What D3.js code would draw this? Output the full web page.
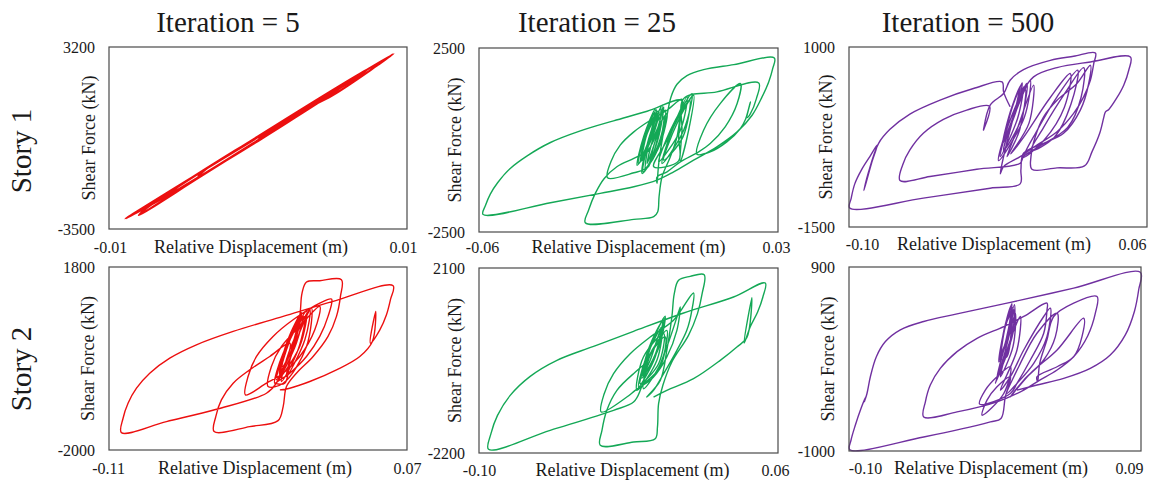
<!DOCTYPE html>
<html>
<head>
<meta charset="utf-8">
<title>Shear force vs relative displacement</title>
<script src="https://d3js.org/d3.v7.min.js"></script>
</head>
<body style="margin:0; background:#fff">
<svg width="1169" height="481"></svg>
<script>
// titles
var iterations = ["Iteration = 5", "Iteration = 25", "Iteration = 500"];
var stories = ["Story 1", "Story 2"];

// tick labels (axis ranges) per panel, row by row
var xTicks = [[-0.01, 0.01], [-0.06, 0.03], [-0.10, 0.06], [-0.11, 0.07], [-0.10, 0.06], [-0.10, 0.09]];
var yTicks = [[-3500, 3200], [-2500, 2500], [-1500, 1000], [-2000, 1800], [-2200, 2100], [-1000, 900]];

// [relative displacement (m), shear force (kN)]
var story1Iter5 = [[0,-150],[0.0040,1230],[0.0036,1020],[0,-260],[-0.0040,-1560],[-0.0036,-1340],[0,-100],
  [0.0060,1920],[0.0054,1650],[0,-250],[-0.0060,-2230],[-0.0054,-1960],[0,-90],[0.0075,2440],[0.0068,2150],
  [0.0030,830],[0,-240],[-0.0040,-1620],[-0.0080,-2990],[-0.0074,-2700],[-0.0040,-1460],[0,-110],[0.0050,1590],
  [0.0091,2950],[0.0080,2520],[0.0050,1420],[0.0028,800],[0.0026,690],[0,-230],[-0.0050,-1930],[-0.0089,-3120],
  [-0.0082,-2880],[-0.0050,-1790],[0,-120],[0.0030,900]];

var story1Iter25 = [[-0.0115,-600],[-0.0098,150],[-0.0062,780],[-0.0080,60],[-0.0120,-650],[-0.0102,120],
  [-0.0066,820],[-0.0084,40],[-0.0110,-560],[-0.0094,170],[-0.0058,760],[-0.0078,80],[-0.0124,-690],
  [-0.0104,100],[-0.0070,840],[-0.0088,20],[-0.0115,-600],
  [-0.0074,-5],[-0.0044,899],[-0.0062,-5],[-0.0099,-819],[-0.0082,131],[-0.0039,809],
  [-0.0059,-95],[-0.0106,-864],[-0.0086,104],[-0.0049,945],[-0.0066,86],[-0.0094,-638],[-0.0072,131],
  [-0.0034,719],[-0.0056,-141],[-0.0109,-909],[-0.0089,40],[-0.0054,854],[-0.0064,-5],[-0.0089,-728],
  [-0.0069,-5],[-0.0044,628],[-0.0059,-186],[-0.0099,-773],[-0.0134,-891],[-0.0213,-1027],[-0.0203,-593],
  [-0.0175,-141],[-0.0134,221],[-0.0084,538],[-0.0034,809],[0.0011,1107],[0.0008,719],[0.0001,86],
  [0.0001,-566],[-0.0074,-728],[-0.0034,-5],[0.0026,1171],[0.0006,266],[-0.0059,-593],[-0.0024,266],
  [0.0041,1261],[0.0016,266],[-0.0049,-638],[-0.0014,357],[0.0034,1080],[0.0014,86],[-0.0044,-547],
  [-0.0004,447],[0.0046,1216],[0.0031,266],[0.0006,-575],[0.0011,266],[0.0016,1125],[0.0116,1306],
  [0.0242,1550],[0.0235,1125],[0.0217,719],[0.0207,610],[0.0217,1035],[0.0202,556],[0.0187,312],
  [0.0146,-50],[0.0096,-321],[0.0056,-385],[0.0076,266],[0.0126,990],[0.0187,1532],[0.0177,990],
  [0.0141,357],[0.0096,-95],[0.0061,-321],[0.0006,-593],[-0.0034,-864],[-0.0064,-999],[-0.0064,-1180],
  [-0.0059,-638],[-0.0047,86],[-0.0034,673],[-0.0022,1171],[-0.0004,1514],[0.0026,1749],[0.0076,1912],
  [0.0167,2048],[0.0289,2228],[0.0284,1939],[0.0272,1578],[0.0252,1171],[0.0222,673],[0.0177,221],
  [0.0116,-186],[0.0046,-547],[-0.0014,-864],[-0.0064,-1090],[-0.0134,-1271],[-0.0235,-1452],
  [-0.0385,-1705],[-0.0588,-2021],[-0.0580,-1768],[-0.0566,-1470],[-0.0544,-1162],[-0.0506,-773],
  [-0.0455,-430],[-0.0385,-68],[-0.0295,248],[-0.0195,520],[-0.0094,782],[0.0009,1080],[0.0006,719],
  [-0.0004,86],[-0.0024,-457],[-0.0049,-999],[-0.0058,-1542],[-0.0062,-1949],[-0.0074,-2085],
  [-0.0134,-2157],[-0.0280,-2247],[-0.0270,-1904],[-0.0250,-1452],[-0.0223,-1045],[-0.0185,-727],
  [-0.0134,-502],[-0.0084,-276]];

var story1Iter500 = [[-0.0170,-300],[-0.0130,120],[-0.0080,460],[-0.0110,100],[-0.0165,-280],[-0.0125,150],
  [-0.0070,500],[-0.0100,130],[-0.0175,-340],[-0.0135,90],[-0.0085,430],[-0.0115,60],[-0.0160,-250],
  [-0.0135,-107],[-0.0063,446],[-0.0095,8],[-0.0188,-522],[-0.0149,-116],[-0.0045,493],
  [-0.0077,-15],[-0.0170,-439],[-0.0127,-52],[-0.0027,539],[-0.0059,22],[-0.0197,-578],[-0.0156,-163],
  [-0.0054,410],[-0.0084,-153],[-0.0152,-522],[-0.0102,-176],[-0.0009,470],[-0.0034,-61],[-0.0131,-485],
  [-0.0063,-255],[0.0077,285],[0.0188,631],[0.0156,160],[0.0048,-292],[-0.0063,-532],[0.0009,-163],
  [0.0117,308],[0.0228,677],[0.0192,207],[0.0102,-255],[-0.0023,-439],[0.0045,-116],[0.0156,345],
  [0.0260,714],[0.0246,299],[0.0174,-116],[0.0013,-393],[-0.0063,-522],[-0.0081,-615],[-0.0314,-698],
  [-0.0565,-799],[-0.0726,-855],[-0.0712,-638],[-0.0673,-430],[-0.0601,-199],[-0.0493,-6],[-0.0368,124],
  [-0.0246,179],[-0.0278,-153],[-0.0242,193],[-0.0170,354],[-0.0135,539],[-0.0063,686],[0.0081,815],
  [0.0206,871],[0.0323,917],[0.0314,769],[0.0296,539],[0.0260,308],[0.0206,77],[0.0117,-176],
  [0.0009,-361],[-0.0081,-522],[-0.0170,-661],[-0.0188,-762],[-0.0170,-522],[-0.0135,-153],[-0.0081,308],
  [-0.0009,585],[0.0117,714],[0.0296,792],[0.0511,862],[0.0502,677],[0.0475,470],[0.0436,285],
  [0.0395,133],[0.0377,100],[0.0368,22],[0.0346,-199],[0.0305,-453],[0.0264,-652],[0.0117,-679],
  [-0.0018,-698],[-0.0023,-522],[0,-246],[0.0045,31],[0.0117,262],[0.0224,493],[0.0296,746],
  [0.0287,493],[0.0242,124],[0.0152,-199],[0.0045,-338],[-0.0063,-476],[-0.0077,-707],[-0.0081,-901],
  [-0.0242,-961],[-0.0601,-1099],[-0.0996,-1237],[-0.0988,-1099],[-0.0969,-901],[-0.0933,-707],
  [-0.0888,-522],[-0.0848,-361],[-0.0879,-615],[-0.0920,-993],[-0.0897,-753],[-0.0841,-338],
  [-0.0780,-144],[-0.0673,68],[-0.0511,262],[-0.0332,423],[-0.0178,516],[-0.0170,377],[-0.0135,170]];

var story2Iter5 = [[-0.0065,-380],[-0.0022,260],[0.0050,760],[0.0008,130],[-0.0058,-320],[-0.0018,300],
  [0.0058,820],[0.0012,150],[-0.0070,-430],[-0.0026,230],[0.0044,700],[0.0004,90],[-0.0052,-270],
  [-0.0014,320],[0.0062,850],[0.0016,170],[-0.0062,-360],[-0.0020,250],[0.0052,780],[0.0006,110],
  [-0.0066,-400],
  [-0.0028,80],[0.0052,774],[0.0012,150],[-0.0089,-544],[-0.0038,80],[0.0072,843],
  [0.0032,219],[-0.0068,-474],[-0.0024,150],[0.0093,878],[0.0052,150],[-0.0099,-613],[-0.0048,11],
  [0.0083,774],[0.0042,80],[-0.0058,-578],[-0.0008,80],[0.0113,912],[0.0083,288],[-0.0028,-474],
  [0.0012,80],[0.0123,947],[0.0093,150],[-0.0048,-613],[-0.0139,-682],[-0.0119,-266],[-0.0058,150],
  [0.0052,566],[0.0173,982],[0.0143,496],[0.0052,-58],[-0.0048,-405],[-0.0149,-613],[-0.0276,-856],
  [-0.0260,-474],[-0.0209,-58],[-0.0109,358],[0.0012,704],[0.0173,1051],[0.0244,1134],[0.0223,774],
  [0.0173,358],[0.0093,-58],[-0.0008,-405],[-0.0089,-613],[-0.0038,-613],[0.0002,80],[0.0052,774],
  [0.0066,1259],[0.0093,1488],[0.0173,1516],[0.0304,1537],[0.0298,1190],[0.0274,774],[0.0223,358],
  [0.0133,-58],[0.0032,-405],[-0.0028,-682],[-0.0048,-1098],[-0.0079,-1390],[-0.0250,-1514],
  [-0.0465,-1618],[-0.0455,-1306],[-0.0421,-960],[-0.0350,-613],[-0.0250,-336],[-0.0129,-58],
  [-0.0008,219],[-0.0089,-613],[-0.0149,-821],[-0.0451,-1154],[-0.0753,-1410],[-0.1025,-1639],
  [-0.1015,-1341],[-0.0985,-1029],[-0.0934,-717],[-0.0854,-405],[-0.0733,-93],[-0.0572,184],
  [-0.0350,462],[-0.0048,774],[0.0254,1086],[0.0616,1412],[0.0600,1121],[0.0576,808],[0.0536,496],
  [0.0479,219],[0.0511,878],[0.0491,254],[0.0415,-58],[0.0274,-336],[0.0113,-578],[-0.0008,-717],
  [-0.0068,-752]];

var story2Iter25 = [[-0.0125,-420],[-0.0085,280],[-0.0015,880],[-0.0050,140],[-0.0118,-360],[-0.0080,320],
  [-0.0008,940],[-0.0045,180],[-0.0130,-460],[-0.0090,250],[-0.0020,850],[-0.0055,110],[-0.0112,-320],
  [-0.0075,350],[-0.0004,980],[-0.0042,200],[-0.0122,-400],
  [-0.0084,-46],[-0.0030,651],[-0.0057,31],[-0.0146,-666],[-0.0111,-46],[-0.0021,729],
  [-0.0048,-46],[-0.0155,-744],[-0.0120,31],[-0.0012,574],[-0.0039,-124],[-0.0137,-589],[-0.0093,31],
  [0.0005,651],[-0.0021,-46],[-0.0120,-705],[-0.0080,109],[-0.0004,496],[-0.0030,-201],[-0.0128,-627],
  [-0.0066,-434],[0.0005,264],[0.0068,1077],[0.0077,1193],[0.0059,651],[0.0005,31],[-0.0066,-434],
  [-0.0164,-744],[-0.0209,-899],[-0.0346,-1247],[-0.0330,-821],[-0.0280,-356],[-0.0191,109],
  [-0.0084,496],[0.0041,884],[0.0148,1519],[0.0139,1116],[0.0112,651],[0.0059,186],[-0.0012,-356],
  [-0.0066,-744],[-0.0102,-899],[-0.0030,-511],[0.0005,186],[0.0032,961],[0.0045,1503],[0.0068,1813],
  [0.0130,1906],[0.0205,1945],[0.0194,1503],[0.0169,1039],[0.0121,535],[0.0032,-85],[-0.0016,-627],
  [-0.0039,-1053],[-0.0045,-1596],[-0.0057,-1867],[-0.0173,-1945],[-0.0351,-2022],[-0.0342,-1673],
  [-0.0316,-1208],[-0.0262,-744],[-0.0173,-356],[-0.0102,-124],[-0.0137,-744],[-0.0173,-1015],
  [-0.0280,-1208],[-0.0619,-1673],[-0.0949,-2115],[-0.0936,-1751],[-0.0901,-1325],[-0.0833,-860],
  [-0.0726,-418],[-0.0583,-46],[-0.0387,279],[-0.0173,628],[0.0095,1054],[0.0362,1426],[0.0532,1751],
  [0.0519,1426],[0.0491,1077],[0.0451,729],[0.0419,357],[0.0460,1410],[0.0433,481],[0.0380,264],
  [0.0291,-46],[0.0148,-472],[0.0005,-744],[-0.0066,-899]];

var story2Iter500 = [[-0.0020,-60],[0.0010,260],[0.0060,520],[0.0030,200],[-0.0015,-40],[0.0015,290],
  [0.0065,480],[0.0035,180],[-0.0025,-80],[0.0008,240],[0.0055,500],[0.0028,160],[-0.0010,-20],
  [0.0020,300],[0.0068,460],[0.0032,170],[-0.0020,-60],
  [0.0028,-26],[0.0061,389],[0.0050,112],[-0.0037,-233],[0.0007,43],[0.0072,458],
  [0.0061,181],[-0.0026,-164],[0.0017,112],[0.0076,510],[0.0067,216],[-0.0048,-302],[0.0007,-26],
  [0.0082,423],[0.0067,78],[-0.0015,-233],[0.0028,43],[0.0115,389],[0.0093,43],[-0.0015,-371],
  [0.0050,-233],[0.0137,43],[0.0267,389],[0.0310,475],[0.0288,181],[0.0202,-95],[0.0093,-302],
  [0.0028,-406],[0.0115,-95],[0.0223,216],[0.0354,423],[0.0343,181],[0.0267,-60],[0.0137,-268],
  [0.0050,-440],[0.0180,-199],[0.0354,43],[0.0527,371],[0.0516,181],[0.0462,-26],[0.0354,-130],
  [0.0223,-233],[0.0228,-285],[0.0241,-95],[0.0288,147],[0.0332,389],[0.0462,527],[0.0614,596],
  [0.0603,423],[0.0553,188],[0.0466,-19],[0.0354,-164],[0.0234,-275],[0.0137,-371],[-0.0037,-492],
  [-0.0297,-596],[-0.0514,-648],[-0.0503,-492],[-0.0471,-319],[-0.0406,-147],[-0.0297,26],
  [-0.0167,164],[0.0007,285],[0.0137,389],[0.0288,527],[0.0288,451],[0.0267,216],[0.0180,-60],
  [0.0093,-302],[0.0050,-406],[-0.0150,-516],[-0.0113,-371],[-0.0037,-233],[0.0050,-130],[0.0007,-406],
  [-0.0134,-630],[-0.0102,-475],[-0.0037,-337],[0.0050,-233],[0.0017,-440],[-0.0011,-665],
  [-0.0080,-700],[-0.0514,-855],[-0.0995,-986],[-0.0987,-889],[-0.0959,-734],[-0.0922,-561],
  [-0.0891,-440],[-0.0900,-492],[-0.0883,-406],[-0.0861,-233],[-0.0822,-26],[-0.0763,130],
  [-0.0666,251],[-0.0514,337],[-0.0297,416],[0.0028,527],[0.0462,682],[0.0896,845],[0.0885,665],
  [0.0857,441],[0.0798,199],[0.0700,-9],[0.0570,-147],[0.0397,-250],[0.0223,-319],[0.0093,-371]];

var panelData = [story1Iter5, story1Iter25, story1Iter500, story2Iter5, story2Iter25, story2Iter500];
var colors = ["#ec0f0f", "#14a856", "#7030a0", "#ec0f0f", "#14a856", "#7030a0"];

// plot boxes [left, top, right, bottom] in px
var boxes = [[109, 47, 407, 229], [479, 48, 778, 232], [849, 47, 1147, 227],
             [109, 267, 407, 450], [479, 268, 778, 453], [849, 267, 1141, 451]];
// nudges of the x tick labels (left, right), x title shift, label baseline, y title gap
var xLabelShift = [[1, -4], [3, -2], [13, -15], [-1, 0], [0, -3], [16, -12]];
var xTitleShift = [-7, 0, -4, -3, 4, -4];
var xBaseline = [253, 253, 250, 474, 476, 474];
var yTitleGap = [14.5, 18.4, 16.7, 15, 18.4, 15];

var serif = "'Liberation Serif'";
var ink = "#1a1a1a";

var svg = d3.select("svg");
var loc = d3.formatLocale({decimal: ".", thousands: ",", grouping: [3], currency: ["", ""], minus: "-"});
var fmtX = loc.format(".2f"), fmtY = loc.format("d");

// column titles
var colCenters = [228, 597, 968];
svg.selectAll(".coltitle")
  .data(iterations)
  .enter().append("text")
  .attr("x", function(d, i) { return colCenters[i]; })
  .attr("y", 32)
  .attr("text-anchor", "middle")
  .style("font-family", serif).style("font-size", "29px").style("fill", ink)
  .text(function(d) { return d; });

// row titles
var rowCenters = [151, 369];
svg.selectAll(".rowtitle")
  .data(stories)
  .enter().append("text")
  .attr("transform", function(d, i) { return "translate(31," + rowCenters[i] + ") rotate(-90)"; })
  .attr("text-anchor", "middle")
  .style("font-family", serif).style("font-size", "29px").style("fill", ink)
  .text(function(d) { return d; });

panelData.forEach(function(data, i) {
  var b = boxes[i];
  var w = b[2] - b[0], h = b[3] - b[1];
  var x = d3.scaleLinear().domain(xTicks[i]).range([0, w]);
  var y = d3.scaleLinear().domain(yTicks[i]).range([h, 0]);

  var g = svg.append("g").attr("transform", "translate(" + b[0] + "," + b[1] + ")");

  // curve
  var line = d3.line()
    .x(function(d) { return x(d[0]); })
    .y(function(d) { return y(d[1]); })
    .curve(d3.curveCatmullRom.alpha(0.5));

  g.append("path")
    .datum(data)
    .attr("d", line)
    .attr("fill", "none")
    .attr("stroke", colors[i])
    .attr("stroke-width", i === 0 ? 2.1 : 1.4)
    .attr("stroke-linejoin", "round");

  // frame
  g.append("rect")
    .attr("width", w).attr("height", h)
    .attr("fill", "none")
    .attr("stroke", "#4a4a4a")
    .attr("stroke-width", 1.2);

  // y axis: only the two end labels
  var ya = g.append("g")
    .call(d3.axisLeft(y).tickValues(yTicks[i]).tickSize(0).tickPadding(14).tickFormat(fmtY));
  ya.select(".domain").remove();
  ya.selectAll("text")
    .style("font-family", serif).style("font-size", "16px").style("fill", ink);

  // x axis: only the two end labels
  var xa = g.append("g")
    .attr("transform", "translate(0," + h + ")")
    .call(d3.axisBottom(x).tickValues(xTicks[i]).tickSize(0).tickFormat(fmtX));
  xa.select(".domain").remove();
  xa.selectAll("text")
    .style("font-family", serif).style("font-size", "16px").style("fill", ink)
    .attr("y", xBaseline[i] - b[3])
    .attr("dy", null)
    .attr("dx", function(d, k) { return xLabelShift[i][k]; });

  // axis titles
  g.append("text")
    .attr("x", w / 2 + xTitleShift[i])
    .attr("y", xBaseline[i] - b[1])
    .attr("text-anchor", "middle")
    .style("font-family", serif).style("font-size", "18px").style("fill", ink)
    .text("Relative Displacement (m)");

  g.append("text")
    .attr("transform", "translate(" + (-yTitleGap[i]) + "," + (h / 2) + ") rotate(-90)")
    .attr("text-anchor", "middle")
    .style("font-family", serif).style("font-size", "18px").style("fill", ink)
    .text("Shear Force (kN)");
});
</script>
</body>
</html>
